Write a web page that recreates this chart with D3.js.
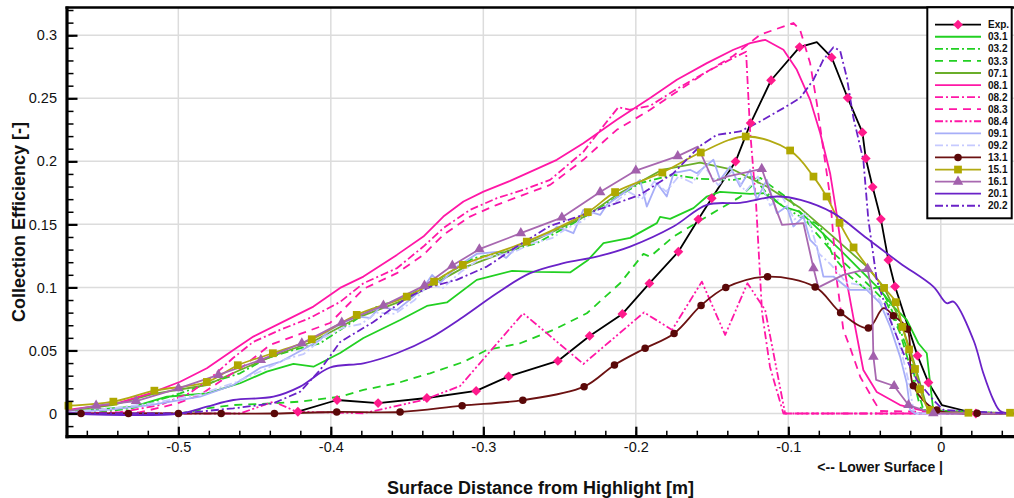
<!DOCTYPE html>
<html><head><meta charset="utf-8">
<script src="https://cdn.jsdelivr.net/npm/d3@7/dist/d3.min.js"></script>
<style>
html,body{margin:0;padding:0;background:#fff;}
svg{display:block;font-family:"Liberation Sans",Arial,Helvetica,sans-serif;}
</style></head>
<body>
<svg id="chart" width="1014" height="498"></svg>
<script>
// ---------------- DATA ----------------
const xTicks = [-0.5, -0.4, -0.3, -0.2, -0.1, 0];
const xTickLabels = ["-0.5", "-0.4", "-0.3", "-0.2", "-0.1", "0"];
const yTicks = [0, 0.05, 0.1, 0.15, 0.2, 0.25, 0.3];
const yTickLabels = ["0", "0.05", "0.1", "0.15", "0.2", "0.25", "0.3"];

const seriesNames = ["Exp.", "03.1", "03.2", "03.3", "07.1", "08.1", "08.2", "08.3", "08.4", "09.1", "09.2", "13.1", "15.1", "16.1", "20.1", "20.2"];

const expX = [-0.4216,-0.3959,-0.3690,-0.3370,-0.3047,-0.2834,-0.2511,-0.2303,-0.2088,-0.1911,-0.1721,-0.1590,-0.1502,-0.1346,-0.1247,-0.1113,-0.0926,-0.0813,-0.0716,-0.0611,-0.0514,-0.0492,-0.0447,-0.0393,-0.0344,-0.0300,-0.0153,-0.0081,0.0007,0.0230];
const expY = [0.0014,0.0107,0.0083,0.0123,0.0179,0.0294,0.0417,0.0615,0.0790,0.1032,0.1283,0.1540,0.1707,0.1998,0.2303,0.2643,0.2906,0.2946,0.2824,0.2504,0.2229,0.2023,0.1796,0.1542,0.1218,0.1007,0.0459,0.0245,0.0067,0.0000];
const expMarks = [0,1,2,3,4,5,6,7,8,9,10,11,12,13,14,15,16,18,19,20,21,22,23,24,25,26,27,29];

const s031X = [-0.5721,-0.5294,-0.5075,-0.4813,-0.4595,-0.4420,-0.4245,-0.4114,-0.3939,-0.3786,-0.3545,-0.3370,-0.3239,-0.3043,-0.2811,-0.2649,-0.2431,-0.2313,-0.2212,-0.2037,-0.1862,-0.1841,-0.1775,-0.1622,-0.1534,-0.1447,-0.1251,-0.1163,-0.1032,-0.0923,-0.0791,-0.0660,-0.0529,-0.0398,-0.0311,-0.0223,-0.0147,-0.0092,-0.0070,-0.0049,0.0474];
const s031Y = [0.0014,0.0054,0.0133,0.0160,0.0240,0.0332,0.0393,0.0371,0.0480,0.0599,0.0742,0.0853,0.0881,0.1060,0.1131,0.1123,0.1119,0.1218,0.1351,0.1393,0.1510,0.1560,0.1544,0.1629,0.1721,0.1758,0.1742,0.1748,0.1641,0.1599,0.1448,0.1298,0.1139,0.0980,0.0848,0.0742,0.0557,0.0478,0.0242,0.0020,0];

const s032X = [-0.573,-0.5513,-0.5296,-0.4988,-0.4770,-0.4595,-0.4420,-0.4245,-0.4070,-0.3939,-0.3721,-0.3502,-0.3284,-0.3065,-0.2846,-0.2649,-0.2409,-0.2190,-0.1972,-0.1753,-0.1578,-0.1360,-0.1231,-0.1141,-0.1032,-0.0923,-0.0824,-0.0791,-0.0704,-0.0595,-0.0485,-0.0398,-0.0332,-0.0267,-0.0201,-0.0157,-0.0114,0.0474];
const s032Y = [0,0.0010,0.0044,0.0160,0.0252,0.0319,0.0438,0.0504,0.0557,0.0663,0.0835,0.0927,0.1073,0.1232,0.1284,0.1351,0.1510,0.1668,0.1827,0.1893,0.1861,0.1853,0.1879,0.1748,0.1641,0.1562,0.1512,0.1483,0.1244,0.1086,0.0980,0.1006,0.0848,0.0663,0.0451,0.0213,0.0028,0];

const s033X = [-0.573,-0.4989,-0.4813,-0.4639,-0.4376,-0.4201,-0.3939,-0.3786,-0.3567,-0.3349,-0.3130,-0.2977,-0.2758,-0.2540,-0.2321,-0.2103,-0.1950,-0.1906,-0.1753,-0.1534,-0.1316,-0.1185,-0.0988,-0.0835,-0.0704,-0.0485,-0.0354,-0.0267,-0.0201,-0.0136,-0.0103,0.0474];
const s033Y = [0,0,0.0041,0.0067,0.0081,0.0094,0.0133,0.0187,0.0240,0.0319,0.0409,0.0504,0.0557,0.0663,0.0795,0.1033,0.1266,0.1244,0.1403,0.1562,0.1718,0.1869,0.1694,0.1456,0.1271,0.1033,0.0875,0.0637,0.0371,0.0054,0,0];

const s071X = [-0.573,-0.5432,-0.5163,-0.4813,-0.4595,-0.4379,-0.4123,-0.3828,-0.3500,-0.3323,-0.3132,-0.2713,-0.2313,-0.2136,-0.1828,-0.1579,-0.1360,-0.1141,-0.0923,-0.0704,-0.0485,-0.0376,-0.0267,-0.0180,-0.0092,-0.0070,0.0474];
const s071Y = [0.0020,0.0067,0.0155,0.0226,0.0345,0.0456,0.0567,0.0758,0.0909,0.1028,0.1155,0.1345,0.1575,0.1726,0.1933,0.1990,0.1933,0.1800,0.1631,0.1401,0.1165,0.1006,0.0742,0.0425,0.0054,0,0];

const s081X = [-0.5729,-0.5403,-0.5185,-0.4988,-0.4813,-0.4639,-0.4508,-0.4311,-0.4114,-0.3939,-0.3786,-0.3567,-0.3393,-0.3262,-0.3130,-0.2999,-0.2824,-0.2649,-0.2518,-0.2344,-0.2125,-0.1906,-0.1731,-0.1534,-0.1360,-0.1250,-0.1152,-0.1032,-0.0944,-0.0857,-0.0791,-0.0726,-0.0682,-0.0639,-0.0573,-0.0508,-0.0420,-0.0267,-0.0092,0,0.0474];
const s081Y = [0.0028,0.0081,0.0160,0.0252,0.0359,0.0504,0.0610,0.0729,0.0848,0.0996,0.1086,0.1258,0.1403,0.1562,0.1681,0.1760,0.1845,0.1940,0.2012,0.2144,0.2329,0.2502,0.2647,0.2779,0.2885,0.2938,0.2964,0.2885,0.2726,0.2488,0.2224,0.1906,0.1575,0.1192,0.0758,0.0345,0.0171,0.0067,0.0014,0,0];

const s082X = [-0.573,-0.5383,-0.5120,-0.4923,-0.4772,-0.4641,-0.4510,-0.4333,-0.4136,-0.3939,-0.3786,-0.3567,-0.3393,-0.3262,-0.3087,-0.2911,-0.2737,-0.2562,-0.2344,-0.2201,-0.2114,-0.2037,-0.1906,-0.1731,-0.1534,-0.1360,-0.1277,-0.1251,-0.1211,-0.1172,-0.1120,-0.1032,0.0474];
const s082Y = [0,0.0010,0.0067,0.0163,0.0298,0.0440,0.0567,0.0663,0.0758,0.0885,0.1033,0.1152,0.1324,0.1470,0.1615,0.1708,0.1774,0.1853,0.2075,0.2298,0.2429,0.2409,0.2440,0.2575,0.2710,0.2821,0.2869,0.2250,0.1655,0.0798,0.0369,0,0];

const s083X = [-0.573,-0.5251,-0.5021,-0.4857,-0.4693,-0.4562,-0.4398,-0.4201,-0.4005,-0.3786,-0.3567,-0.3393,-0.3262,-0.3087,-0.2911,-0.2737,-0.2562,-0.2344,-0.2125,-0.1906,-0.1731,-0.1534,-0.1360,-0.1185,-0.0967,-0.0923,-0.0857,-0.0813,-0.0770,-0.0726,-0.0682,-0.0639,-0.0594,-0.0528,-0.0442,-0.0398,0.0474];
const s083Y = [0,0.0010,0.0075,0.0147,0.0282,0.0385,0.0544,0.0631,0.0718,0.0988,0.1113,0.1258,0.1417,0.1562,0.1655,0.1734,0.1813,0.2012,0.2250,0.2409,0.2552,0.2710,0.2837,0.3004,0.3097,0.3044,0.2779,0.2462,0.2091,0.1721,0.1060,0.0663,0.0520,0.0290,0.0107,0.0020,0];

const s084X = [-0.573,-0.4595,-0.4376,-0.4223,-0.3786,-0.3393,-0.3152,-0.2739,-0.2344,-0.1946,-0.1762,-0.1567,-0.1414,-0.1268,-0.1152,-0.1021,0.0474];
const s084Y = [0,0,0.0094,0.0014,0.0002,0.0107,0.0218,0.0795,0.0393,0.0802,0.0663,0.1046,0.0623,0.1033,0.0821,0,0];

const s091X = [-0.573,-0.5447,-0.5185,-0.4857,-0.4639,-0.4464,-0.4333,-0.4201,-0.4070,-0.4005,-0.3906,-0.3829,-0.3742,-0.3677,-0.3567,-0.3458,-0.3381,-0.3336,-0.3283,-0.3174,-0.3043,-0.2911,-0.2850,-0.2780,-0.2693,-0.2562,-0.2518,-0.2409,-0.2344,-0.2234,-0.2190,-0.2070,-0.1972,-0.1928,-0.1862,-0.1797,-0.1753,-0.1644,-0.1600,-0.1491,-0.1447,-0.1382,-0.1316,-0.1251,-0.1207,-0.1141,-0.1075,-0.1010,-0.0967,-0.0901,-0.0857,-0.0813,-0.0770,-0.0704,-0.0595,-0.0485,-0.0398,-0.0332,-0.0267,-0.0223,-0.0201,-0.0169,0.0474];
const s091Y = [0.0010,0.0030,0.0067,0.0133,0.0226,0.0361,0.0409,0.0496,0.0583,0.0663,0.0726,0.0768,0.0758,0.0845,0.0821,0.0925,0.1020,0.1099,0.1036,0.1163,0.1266,0.1282,0.1234,0.1321,0.1377,0.1425,0.1483,0.1430,0.1615,0.1575,0.1655,0.1758,0.1853,0.1641,0.1827,0.1721,0.1906,0.1933,0.1906,0.2012,0.1853,0.1959,0.1800,0.1933,0.1694,0.1853,0.1589,0.1641,0.1483,0.1562,0.1377,0.1324,0.1086,0.1086,0.0980,0.0980,0.0875,0.0689,0.0451,0.0240,0.0028,0,0];

const s092X = [-0.573,-0.545,-0.518,-0.486,-0.462,-0.445,-0.430,-0.418,-0.405,-0.392,-0.380,-0.370,-0.358,-0.345,-0.335,-0.327,-0.315,-0.303,-0.292,-0.280,-0.268,-0.255,-0.245,-0.236,-0.226,-0.215,-0.205,-0.196,-0.188,-0.180,-0.172,-0.163,-0.155,-0.146,-0.137,-0.128,-0.120,-0.112,-0.104,-0.096,-0.088,-0.080,-0.072,-0.062,-0.050,-0.040,-0.032,-0.026,-0.021,-0.018,-0.015,0.047];
const s092Y = [0.001,0.004,0.008,0.015,0.025,0.034,0.043,0.047,0.060,0.068,0.071,0.080,0.079,0.090,0.104,0.099,0.112,0.122,0.125,0.128,0.135,0.139,0.147,0.152,0.161,0.166,0.176,0.170,0.184,0.176,0.188,0.183,0.196,0.181,0.192,0.176,0.188,0.165,0.172,0.154,0.159,0.127,0.118,0.104,0.101,0.090,0.072,0.050,0.025,0.003,0,0];

const s131X = [-0.573,-0.5638,-0.5327,-0.4999,-0.4719,-0.4370,-0.3961,-0.3546,-0.3139,-0.2741,-0.2339,-0.2140,-0.1939,-0.1749,-0.1572,-0.1410,-0.1136,-0.0824,-0.0657,-0.0475,-0.0376,-0.0311,-0.0219,-0.0180,-0.0026,0.0238,0.048];
const s131Y = [0,0,0,0,0,0,0.0012,0.0012,0.0062,0.0106,0.0213,0.0385,0.0517,0.0635,0.0857,0.0999,0.1085,0.1004,0.0800,0.0679,0.0835,0.0776,0.0670,0.0220,0.0027,0.0002,0];
const s131Marks = [1,2,3,4,5,6,7,8,9,10,11,12,13,14,15,16,17,18,19,21,22,23,24,25];

const s151X = [-0.5721,-0.5426,-0.5157,-0.4813,-0.4610,-0.4380,-0.4125,-0.3830,-0.3502,-0.3323,-0.3134,-0.2715,-0.2315,-0.2136,-0.1826,-0.1574,-0.1279,-0.0988,-0.0835,-0.0749,-0.0664,-0.0572,-0.0372,-0.0295,-0.0252,-0.0208,-0.0169,-0.0136,-0.0070,0.0181,0.0454];
const s151Y = [0.0062,0.0094,0.0181,0.0250,0.0383,0.0478,0.0589,0.0782,0.0927,0.1046,0.1179,0.1363,0.1597,0.1756,0.1911,0.2070,0.2197,0.2086,0.1879,0.1721,0.1512,0.1317,0.0996,0.0883,0.0687,0.0508,0.0353,0.0192,0.0028,0.0006,0.0006];

const s161X = [-0.572,-0.5539,-0.5277,-0.4999,-0.4737,-0.4459,-0.4190,-0.3928,-0.3655,-0.3386,-0.3203,-0.3026,-0.2754,-0.2485,-0.2234,-0.2000,-0.1725,-0.1593,-0.1491,-0.1403,-0.1174,-0.1075,-0.1041,-0.0901,-0.0835,-0.0803,-0.0639,-0.0480,-0.0452,-0.0442,-0.0424,-0.0306,-0.0212,-0.0049,0.045];
const s161Y = [0.0020,0.0062,0.0099,0.0200,0.0306,0.0425,0.0557,0.0721,0.0856,0.1014,0.1173,0.1303,0.1430,0.1554,0.1756,0.1927,0.2041,0.2117,0.1840,0.1879,0.1940,0.1603,0.1496,0.1510,0.1152,0.1000,0.1099,0.1147,0.0967,0.0451,0.0266,0.0218,0.0067,0.0002,0];
const s161Marks = [1,2,3,4,5,6,7,8,9,10,11,12,13,14,15,16,20,24,27,29,31,32,33];

const s201X = [-0.573,-0.4989,-0.4813,-0.4639,-0.4376,-0.4201,-0.4005,-0.3786,-0.3567,-0.3349,-0.3130,-0.2911,-0.2693,-0.2475,-0.2256,-0.2037,-0.1753,-0.1534,-0.1316,-0.1075,-0.0920,-0.0704,-0.0485,-0.0267,-0.0049,0.0039,0.0083,0.0214,0.0279,0.0345,0.0389,0.0474];
const s201Y = [0,0,0.0054,0.0107,0.0133,0.0213,0.0365,0.0398,0.0478,0.0599,0.0768,0.0954,0.1113,0.1192,0.1244,0.1324,0.1483,0.1655,0.1671,0.1721,0.1694,0.1589,0.1390,0.1192,0.1006,0.0875,0.0887,0.0583,0.0319,0.0107,0.0020,0];

const s202X = [-0.573,-0.499,-0.4639,-0.4376,-0.4201,-0.4070,-0.3939,-0.3721,-0.3502,-0.3349,-0.3174,-0.2977,-0.2780,-0.2562,-0.2409,-0.2190,-0.1972,-0.1753,-0.1578,-0.1469,-0.1316,-0.1185,-0.1032,-0.0923,-0.0835,-0.0770,-0.0704,-0.0660,-0.0616,-0.0573,-0.0508,-0.0475,-0.0420,-0.0332,-0.0245,-0.0157,-0.0049,0.0017,0.0474];
const s202Y = [0,0,0.0041,0.0081,0.0173,0.0345,0.0567,0.0726,0.0917,0.1004,0.1060,0.1165,0.1324,0.1488,0.1549,0.1641,0.1734,0.1906,0.2123,0.2210,0.2237,0.2316,0.2422,0.2502,0.2647,0.2806,0.2905,0.2877,0.2663,0.2345,0.2012,0.1536,0.1060,0.0742,0.0478,0.0266,0.0107,0.0028,0];

// ---------------- STYLES ----------------
const GREEN = "#22d022", MAG = "#ff17a6", PURP = "#6a22c8";
const DASHDOT = "8,3,2,3", DASHED = "8,6", DASHDOTDOT = "8,2.5,2,2.5,2,2.5";
const series = [
  {x: expX, y: expY, color: "#000000", dash: null, marker: "diamond", mcolor: "#ff1a8c", marks: expMarks},
  {x: s031X, y: s031Y, color: GREEN, dash: null},
  {x: s032X, y: s032Y, color: GREEN, dash: DASHDOT},
  {x: s033X, y: s033Y, color: GREEN, dash: DASHED},
  {x: s071X, y: s071Y, color: "#6aae2a", dash: null},
  {x: s081X, y: s081Y, color: MAG, dash: null},
  {x: s082X, y: s082Y, color: MAG, dash: DASHDOT},
  {x: s083X, y: s083Y, color: MAG, dash: DASHED},
  {x: s084X, y: s084Y, color: MAG, dash: DASHDOTDOT},
  {x: s091X, y: s091Y, color: "#a7aef8", dash: null},
  {x: s092X, y: s092Y, color: "#c6caff", dash: DASHDOT},
  {x: s131X, y: s131Y, color: "#6c1212", dash: null, marker: "circle", mcolor: "#5a0808", marks: s131Marks, smooth: true},
  {x: s151X, y: s151Y, color: "#b2aa12", dash: null, marker: "square", mcolor: "#b0a800", smooth: true},
  {x: s161X, y: s161Y, color: "#a868b0", dash: null, marker: "triangle", mcolor: "#a260ac", marks: s161Marks},
  {x: s201X, y: s201Y, color: PURP, dash: null, smooth: true},
  {x: s202X, y: s202Y, color: PURP, dash: DASHDOT}
];

// ---------------- LAYOUT ----------------
const L = 67, R = 1014, T = 7.5, B = 436.7;
const svg = d3.select("#chart");
const x = d3.scaleLinear().domain([-0.573, 0.048]).range([L, R]);
const y = d3.scaleLinear().domain([-0.0184, 0.322]).range([B, T]);

// grid
const grid = svg.append("g");
grid.selectAll(".gx").data(xTicks).join("line")
  .attr("x1", d => x(d)).attr("x2", d => x(d)).attr("y1", T).attr("y2", B)
  .attr("stroke", "#dcdcdc").attr("stroke-width", 1.5);
grid.selectAll(".gy").data(yTicks).join("line")
  .attr("x1", L).attr("x2", R).attr("y1", d => y(d)).attr("y2", d => y(d))
  .attr("stroke", "#dcdcdc").attr("stroke-width", 1.5);

// clip
svg.append("clipPath").attr("id", "clip").append("rect")
  .attr("x", L).attr("y", T).attr("width", R - L).attr("height", B - T);

const plot = svg.append("g").attr("clip-path", "url(#clip)");
const markG = svg.append("g");

const symbols = {
  diamond: {type: d3.symbolSquare, size: 48, rot: 45},
  circle: {type: d3.symbolCircle, size: 44, rot: 0},
  square: {type: d3.symbolSquare, size: 60, rot: 0},
  triangle: {type: d3.symbolTriangle, size: 48, rot: 0}
};

series.forEach(s => {
  const pts = s.x.map((v, i) => [v, s.y[i]]);
  const line = d3.line().x(d => x(d[0])).y(d => y(d[1]))
    .curve(s.smooth ? d3.curveCatmullRom.alpha(0.5) : d3.curveLinear);
  plot.append("path").datum(pts)
    .attr("d", line).attr("fill", "none")
    .attr("stroke", s.color).attr("stroke-width", 1.8)
    .attr("stroke-linejoin", "round")
    .attr("stroke-dasharray", s.dash);
  if (s.marker) {
    const idx = s.marks || pts.map((d, i) => i);
    const sym = symbols[s.marker];
    markG.selectAll(null).data(idx.map(i => pts[i])).join("path")
      .attr("d", d3.symbol().type(sym.type).size(sym.size))
      .attr("transform", d => `translate(${x(d[0])},${y(d[1])}) rotate(${sym.rot})`)
      .attr("fill", s.mcolor);
  }
});

// axes
const axisG = svg.append("g");
const yMinor = d3.range(-0.01, 0.3201, 0.01);
const xMinor = d3.range(-0.56, 0.0401, 0.02);
axisG.append("g").attr("transform", `translate(${L},0)`)
  .call(d3.axisLeft(y).tickValues(yMinor).tickSize(-6.5).tickFormat(""))
  .call(g => g.select(".domain").remove())
  .call(g => g.selectAll("line").attr("stroke-width", 1.5));
axisG.append("g").attr("transform", `translate(0,${B})`)
  .call(d3.axisBottom(x).tickValues(xMinor).tickSize(-6).tickFormat(""))
  .call(g => g.select(".domain").remove())
  .call(g => g.selectAll("line").attr("stroke-width", 1.5));
const yAx = axisG.append("g").attr("transform", `translate(${L},0)`)
  .call(d3.axisLeft(y).tickValues(yTicks).tickSize(-10.5).tickPadding(10)
    .tickFormat((d, i) => yTickLabels[i]));
yAx.select(".domain").remove();
yAx.selectAll("line").attr("stroke-width", 2.2);
yAx.selectAll("text").attr("font-size", 14.5).attr("fill", "#111")
  .attr("font-family", "'Liberation Sans',Arial,sans-serif");
const xAx = axisG.append("g").attr("transform", `translate(0,${B})`)
  .call(d3.axisBottom(x).tickValues(xTicks).tickSize(-10).tickPadding(5.5)
    .tickFormat((d, i) => xTickLabels[i]));
xAx.select(".domain").remove();
xAx.selectAll("line").attr("stroke-width", 2.2);
xAx.selectAll("text").attr("font-size", 14.5).attr("fill", "#111")
  .attr("font-family", "'Liberation Sans',Arial,sans-serif");

// frame lines
axisG.append("line").attr("x1", L).attr("x2", L).attr("y1", T - 1).attr("y2", B + 1.5)
  .attr("stroke", "#000").attr("stroke-width", 3.2);
axisG.append("line").attr("x1", L - 1.5).attr("x2", R).attr("y1", B).attr("y2", B)
  .attr("stroke", "#000").attr("stroke-width", 3.2);
axisG.append("line").attr("x1", L - 1.5).attr("x2", R).attr("y1", T).attr("y2", T)
  .attr("stroke", "#000").attr("stroke-width", 2.4);

// titles
svg.append("text").attr("x", (L + R) / 2).attr("y", 494)
  .attr("text-anchor", "middle").attr("font-weight", "bold").attr("font-size", 18)
  .attr("fill", "#111").text("Surface Distance from Highlight [m]");
svg.append("text").attr("transform", `translate(25,${(T + B) / 2}) rotate(-90)`)
  .attr("text-anchor", "middle").attr("font-weight", "bold").attr("font-size", 18)
  .attr("fill", "#111").text("Collection Efficiency [-]");
svg.append("text").attr("x", 943).attr("y", 471.5)
  .attr("text-anchor", "end").attr("font-weight", "bold").attr("font-size", 14)
  .attr("fill", "#111").text("<-- Lower Surface |");

// legend
const lg = svg.append("g");
lg.append("rect").attr("x", 927.3).attr("y", 7.3).attr("width", 84.4).attr("height", 211)
  .attr("fill", "#fff").attr("stroke", "#000").attr("stroke-width", 2);
series.forEach((s, i) => {
  const yy = 24.7 + i * 12.07;
  lg.append("line").attr("x1", 935).attr("x2", 981).attr("y1", yy).attr("y2", yy)
    .attr("stroke", s.color).attr("stroke-width", 1.8).attr("stroke-dasharray", s.dash);
  if (s.marker) {
    const sym = symbols[s.marker];
    lg.append("path").attr("d", d3.symbol().type(sym.type).size(sym.size))
      .attr("transform", `translate(958,${yy}) rotate(${sym.rot})`).attr("fill", s.mcolor);
  }
  lg.append("text").attr("x", 988).attr("y", yy).attr("dy", "0.36em")
    .attr("font-weight", "bold").attr("font-size", 10).attr("fill", "#111")
    .text(seriesNames[i]);
});
</script>
</body></html>
